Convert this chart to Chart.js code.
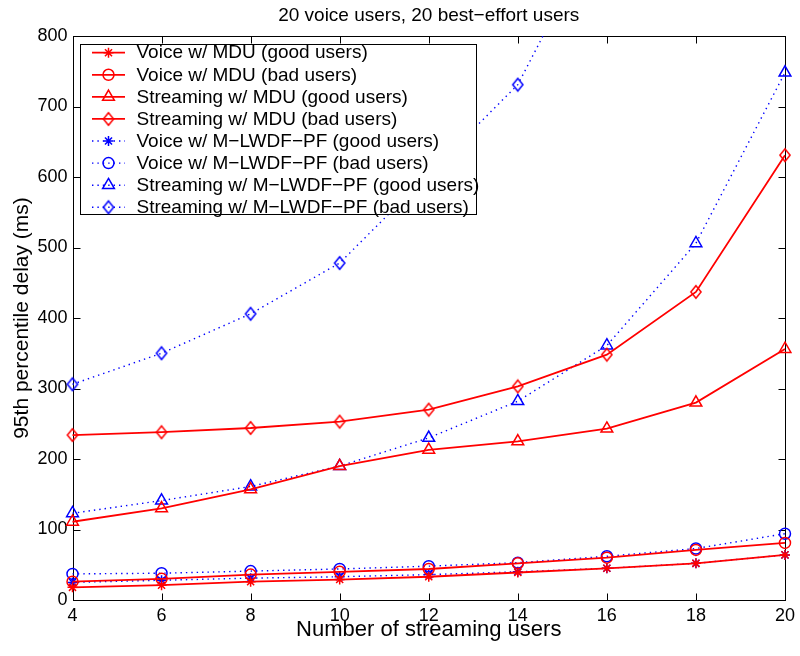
<!DOCTYPE html>
<html><head><meta charset="utf-8">
<script src="https://cdn.jsdelivr.net/npm/chart.js@4/dist/chart.umd.min.js"></script>
<style>html,body{margin:0;padding:0;background:#fff}</style>
</head><body>
<canvas id="c" width="800" height="656" style="width:800px;height:656px;display:block"></canvas>
<script>
// ---- data ----
const streamingUsers = [4, 6, 8, 10, 12, 14, 16, 18, 20];
const voiceMduGood     = [18, 21, 26, 29, 33, 39, 45, 52, 64];
const voiceMduBad      = [26, 30, 36, 40, 44, 52, 60, 71, 81];
const streamMduGood    = [111, 130, 157, 190, 213, 225, 243, 280, 356];
const streamMduBad     = [234, 238, 244, 253, 270, 303, 348, 437, 631];
const voiceLwdfGood    = [25, 28, 31, 33, 36, 40, 45, 52, 64];
const voiceLwdfBad     = [37, 38, 41, 44, 48, 53, 62, 73, 94];
const streamLwdfGood   = [123, 141, 161, 190, 230, 282, 361, 506, 748];
const streamLwdfBad    = [306, 350, 406, 478, 604, 731, 975, null, null];
const seriesLabels = [
  'Voice w/ MDU (good users)',
  'Voice w/ MDU (bad users)',
  'Streaming w/ MDU (good users)',
  'Streaming w/ MDU (bad users)',
  'Voice w/ M\u2212LWDF\u2212PF (good users)',
  'Voice w/ M\u2212LWDF\u2212PF (bad users)',
  'Streaming w/ M\u2212LWDF\u2212PF (good users)',
  'Streaming w/ M\u2212LWDF\u2212PF (bad users)'
];
const titleText = '20 voice users, 20 best\u2212effort users';
const xTitle = 'Number of streaming users';
const yTitle = '95th percentile delay (ms)';
const xTicks = [4, 6, 8, 10, 12, 14, 16, 18, 20];
const yTicks = [0, 100, 200, 300, 400, 500, 600, 700, 800];

const allSeries = [voiceMduGood, voiceMduBad, streamMduGood, streamMduBad,
                   voiceLwdfGood, voiceLwdfBad, streamLwdfGood, streamLwdfBad];
const markers = ['star', 'circle', 'triangle', 'diamond', 'star', 'circle', 'triangle', 'diamond'];
const markerRadius = {star: 5, circle: 5.5, triangle: 6.8, diamond: 6};

const FONT = "'Liberation Sans', Arial, Helvetica, sans-serif";
Chart.defaults.font.family = FONT;
Chart.defaults.color = '#000';

function diamondImage(color) {
  const c = document.createElement('canvas');
  c.width = 14; c.height = 16;
  const g = c.getContext('2d');
  g.strokeStyle = color; g.lineWidth = 1.5;
  g.beginPath();
  g.moveTo(7, 1.8); g.lineTo(12.1, 8); g.lineTo(7, 14.2); g.lineTo(1.9, 8); g.closePath();
  g.stroke();
  return c;
}
const diamondRed = diamondImage('#ff0000');
const diamondBlue = diamondImage('#0000ff');

const datasets = allSeries.map((vals, i) => {
  const red = i < 4;
  const col = red ? '#ff0000' : '#0000ff';
  const m = markers[i];
  return {
    label: seriesLabels[i],
    data: streamingUsers.map((x, j) => ({x: x, y: vals[j]})),
    borderColor: col,
    borderWidth: red ? 1.8 : 1.4,
    borderDash: red ? [] : [1.4, 4],
    pointStyle: m === 'diamond' ? (red ? diamondRed : diamondBlue) : m,
    pointRadius: markerRadius[m],
    pointBorderColor: col,
    pointBackgroundColor: 'rgba(0,0,0,0)',
    pointBorderWidth: 1.5,
    fill: false,
    tension: 0,
    spanGaps: false,
    clip: {left: 12, right: 12, top: 0, bottom: 12}
  };
});

const framePlugin = {
  id: 'frame',
  beforeDatasetsDraw(chart) {
    const {ctx, chartArea: a, scales: {x, y}} = chart;
    ctx.save();
    // title, centred over the plot area
    ctx.fillStyle = '#000';
    ctx.font = '19px ' + FONT;
    ctx.textAlign = 'center';
    ctx.textBaseline = 'middle';
    ctx.fillText(titleText, (a.left + a.right) / 2, 15.5);
    ctx.strokeStyle = '#000';
    ctx.lineWidth = 1;
    const L = Math.round(a.left) + 0.5, R = Math.round(a.right) + 0.5;
    const T = Math.round(a.top) + 0.5, B = Math.round(a.bottom) + 0.5;
    ctx.strokeRect(L, T, R - L, B - T);
    const tl = 7;
    ctx.beginPath();
    xTicks.forEach(v => {
      const px = Math.round(x.getPixelForValue(v)) + 0.5;
      ctx.moveTo(px, B); ctx.lineTo(px, B - tl);
      ctx.moveTo(px, T); ctx.lineTo(px, T + tl);
    });
    yTicks.forEach(v => {
      const py = Math.round(y.getPixelForValue(v)) + 0.5;
      ctx.moveTo(L, py); ctx.lineTo(L + tl, py);
      ctx.moveTo(R, py); ctx.lineTo(R - tl, py);
    });
    ctx.stroke();
    ctx.restore();
  }
};

const legendPlugin = {
  id: 'boxLegend',
  afterDatasetsDraw(chart) {
    const {ctx} = chart;
    const box = {l: 80.5, t: 44.5, r: 476.5, b: 214.5};
    ctx.save();
    ctx.fillStyle = '#fff';
    ctx.fillRect(box.l, box.t, box.r - box.l, box.b - box.t);
    ctx.strokeStyle = '#000';
    ctx.lineWidth = 1;
    ctx.strokeRect(box.l, box.t, box.r - box.l, box.b - box.t);
    const rowH = 22.08, y0 = 52.7;
    chart.data.datasets.forEach((ds, i) => {
      const yy = y0 + i * rowH;
      ctx.save();
      ctx.strokeStyle = ds.borderColor;
      ctx.lineWidth = ds.borderWidth;
      ctx.setLineDash(ds.borderDash || []);
      ctx.beginPath();
      ctx.moveTo(92, yy); ctx.lineTo(125, yy);
      ctx.stroke();
      ctx.setLineDash([]);
      ctx.lineWidth = ds.pointBorderWidth;
      ctx.strokeStyle = ds.pointBorderColor;
      ctx.fillStyle = 'rgba(0,0,0,0)';
      Chart.helpers.drawPoint(ctx, {pointStyle: ds.pointStyle, radius: ds.pointRadius, rotation: 0, borderWidth: ds.pointBorderWidth}, 108.5, yy);
      ctx.restore();
      ctx.fillStyle = '#000';
      ctx.font = '19px ' + FONT;
      ctx.textBaseline = 'middle';
      ctx.textAlign = 'left';
      ctx.fillText(ds.label, 136.5, yy + 0.5);
    });
    ctx.restore();
  }
};

new Chart(document.getElementById('c'), {
  type: 'line',
  data: {datasets},
  options: {
    responsive: false,
    devicePixelRatio: 1,
    animation: false,
    layout: {padding: {left: 0, right: 13, top: 36, bottom: 0}},
    plugins: {
      legend: {display: false},
      tooltip: {enabled: false},
      title: {display: false}
    },
    scales: {
      x: {
        type: 'linear', min: 4, max: 20,
        afterBuildTicks(s) { s.ticks = xTicks.map(v => ({value: v})); },
        afterFit(s) { s.height = 56; },
        ticks: {font: {size: 18}, color: '#000', padding: 5, maxRotation: 0},
        grid: {display: false, drawTicks: false},
        border: {display: false},
        title: {display: true, text: xTitle, color: '#000', font: {size: 22}, padding: {top: 0, bottom: 13}}
      },
      y: {
        type: 'linear', min: 0, max: 800,
        afterBuildTicks(s) { s.ticks = yTicks.map(v => ({value: v})); },
        afterFit(s) { s.width = 72.5; },
        ticks: {font: {size: 18}, color: '#000', padding: 5},
        grid: {display: false, drawTicks: false},
        border: {display: false},
        title: {display: true, text: yTitle, color: '#000', font: {size: 21}, padding: {top: 10, bottom: 0}}
      }
    }
  },
  plugins: [framePlugin, legendPlugin]
});
</script>
</body></html>
